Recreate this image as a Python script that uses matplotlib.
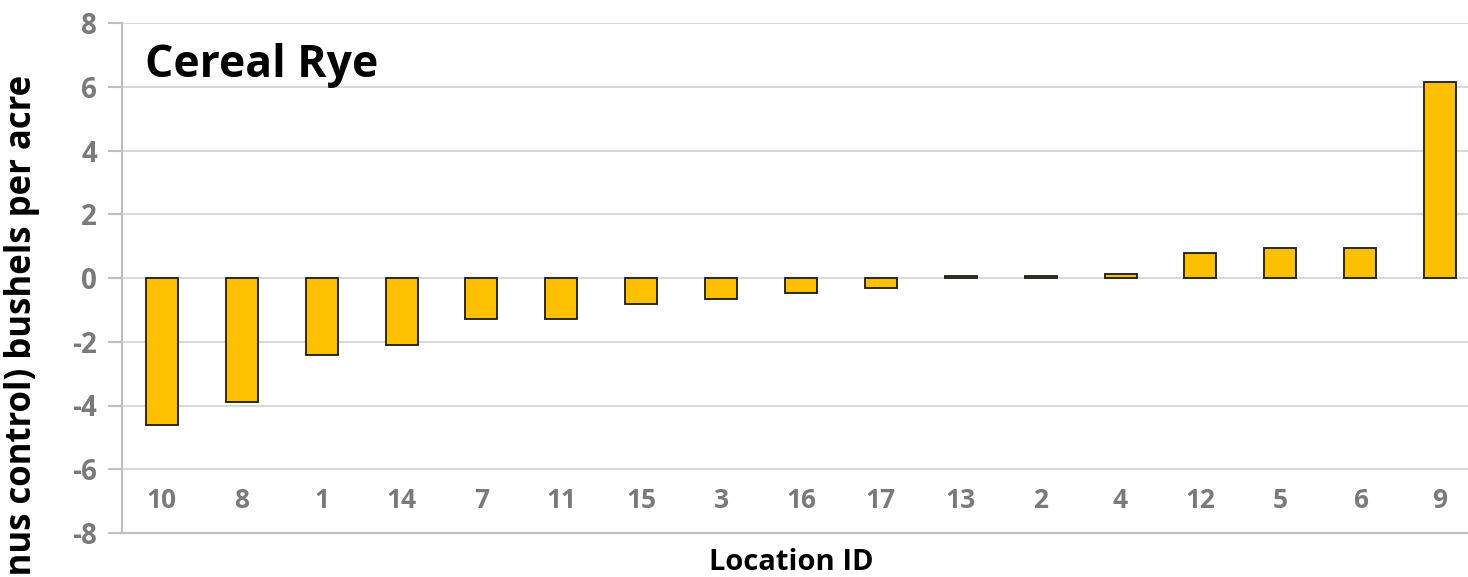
import matplotlib
matplotlib.use("Agg")
import matplotlib.pyplot as plt

locations = ["10", "8", "1", "14", "7", "11", "15", "3", "16", "17", "13", "2", "4", "12", "5", "6", "9"]
yield_diff = [-4.6, -3.9, -2.4, -2.1, -1.3, -1.3, -0.8, -0.65, -0.48, -0.3, 0.05, 0.05, 0.13, 0.78, 0.95, 0.95, 6.15]
y_ticks = [-8, -6, -4, -2, 0, 2, 4, 6, 8]

plt.rcParams['font.family'] = ['Open Sans', 'DejaVu Sans']

W, H = 1468, 577
fig = plt.figure(figsize=(W / 100, H / 100), dpi=100)
ax = fig.add_axes([122 / W, 44 / H, (1480 - 122) / W, 510 / H])

x = list(range(len(locations)))
ax.bar(x, yield_diff, width=0.4, color="#FFC000", edgecolor="#1a1a1a", linewidth=1.3, zorder=3)

ax.set_xlim(-0.5, len(locations) - 0.5)
ax.set_ylim(-8, 8)
ax.set_yticks(y_ticks)
ax.set_yticklabels([str(t) for t in y_ticks], fontsize=20, fontweight="bold", color="#7a7a7a")
ax.grid(axis="y", color="#d9d9d9", linewidth=1.5, zorder=0)

ax.set_xticks(x)
ax.set_xticklabels(locations, fontsize=19, fontweight="bold", color="#7a7a7a")
ax.tick_params(axis="x", length=0, pad=-33)
ax.tick_params(axis="y", length=10, width=1.5, color="#bfbfbf", pad=8)

for s in ["top", "right"]:
    ax.spines[s].set_visible(False)
for s in ["left", "bottom"]:
    ax.spines[s].set_color("#bfbfbf")
    ax.spines[s].set_linewidth(1.5)

ax.text(145 / W, 1 - 65 / H, "Cereal Rye", transform=fig.transFigure, fontsize=32,
        fontweight="bold", color="black", ha="left", va="center")

fig.text(791 / W, 1 - 562 / H, "Location ID", fontsize=21, fontweight="bold",
         color="black", ha="center", va="center")

fig.text(22 / W, 1 - 75 / H, "Yield difference (cover crop minus control) bushels per acre",
         rotation=90, fontsize=25, fontweight="bold", color="black", ha="center", va="top")

fig.savefig("out.png", dpi=100)
